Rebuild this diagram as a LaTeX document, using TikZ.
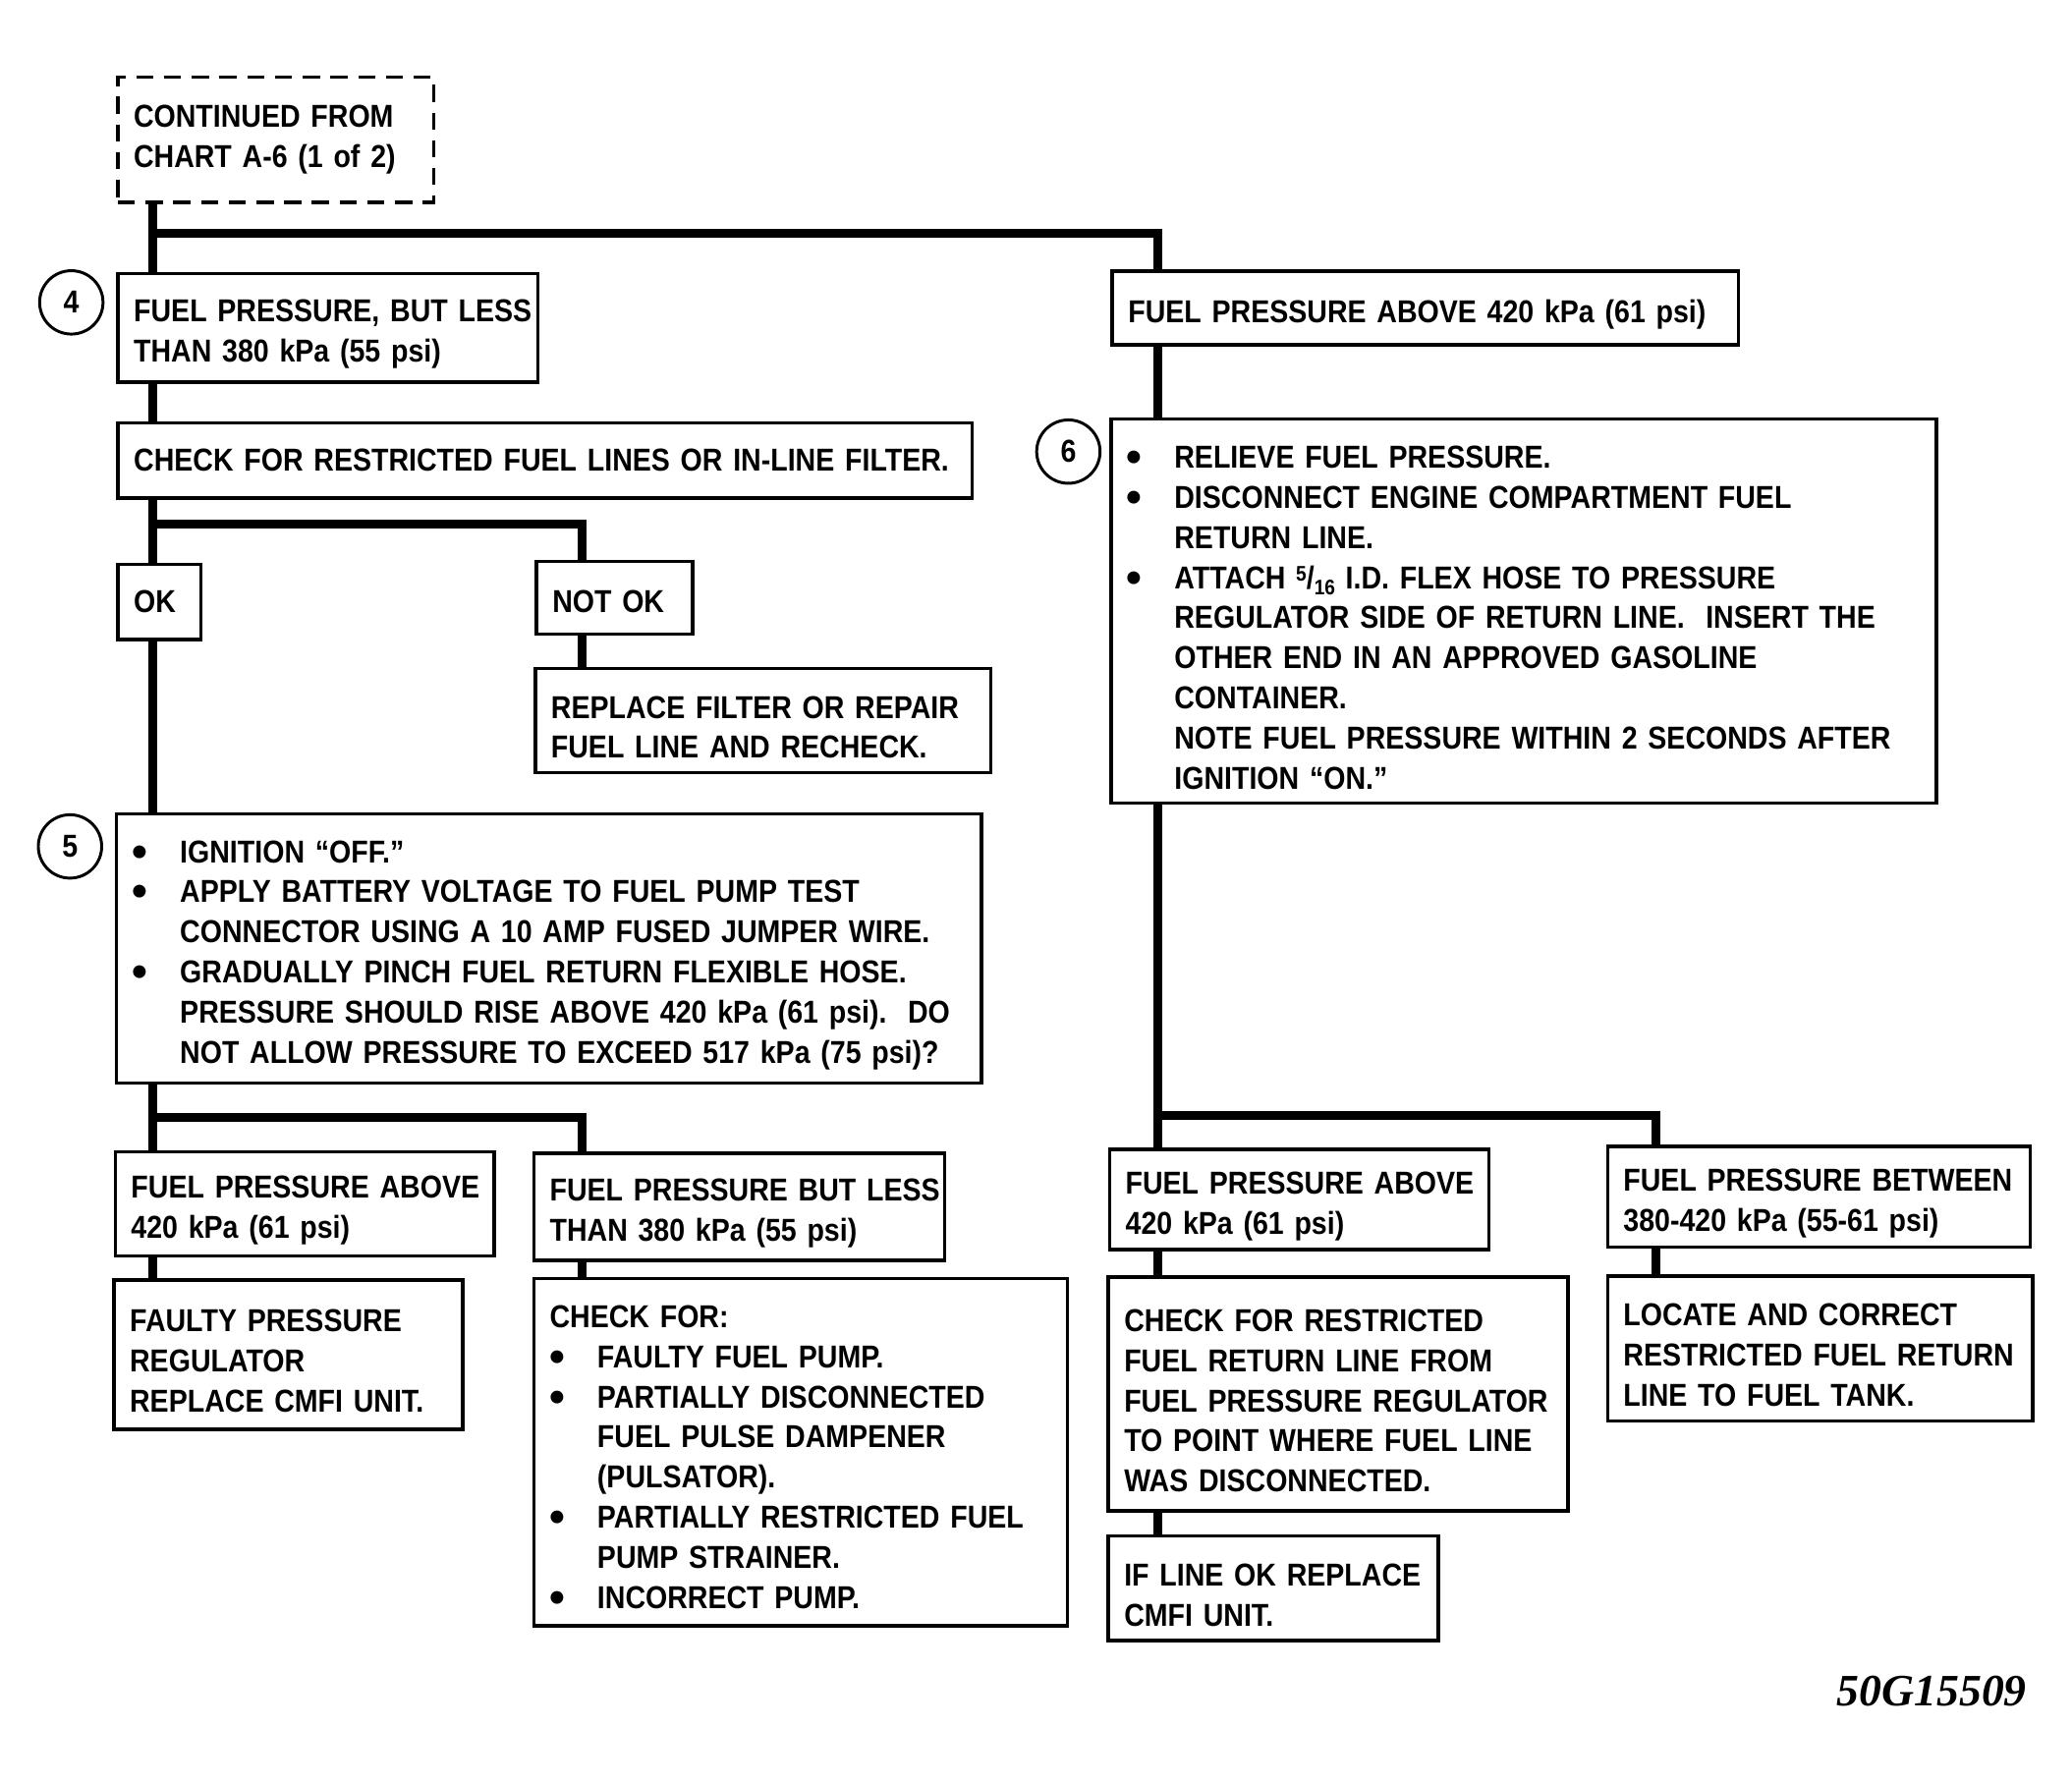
\documentclass[tikz,border=0pt]{standalone}
\usepackage{fontspec}
\usepackage{graphicx}
\setmainfont{Liberation Sans}
\newfontfamily\cf{Liberation Sans}[FakeStretch=0.885]
\newfontfamily\bulfont{Liberation Sans}
\newfontfamily\codefont{Liberation Serif}
\newcommand\bult{\raisebox{-1.5pt}{\scalebox{1.4}{\bulfont\bfseries •}}}
\newcommand\bl[1]{\mbox{\makebox[18pt][l]{\bult}#1}}
\newcommand\ct[1]{\mbox{\hspace*{18pt}#1}}
\newcommand\frc{{\fontsize{8}{8}\selectfont\raisebox{3pt}{5}}/{\fontsize{8}{8}\selectfont\raisebox{-2.5pt}{16}}}
\newcommand\fhval{13.4pt}
\begin{document}
\begin{tikzpicture}[x=0.5pt,y=-0.5pt,
  fh/.code={\renewcommand\fhval{#1}},
  box/.style={draw, line width=1.3pt, rectangle, inner xsep=6pt, inner ysep=0pt,
    anchor=north west, align=left, font=\cf\bfseries\fontsize{12}{15.2}\selectfont,
    execute at begin node={\rule{0pt}{\fhval}}},
  dbox/.style={box, fh=0pt, line width=1.2pt, dash pattern=on 6.5pt off 4pt},
  conn/.style={line width=3.3pt},
  num/.style={circle, draw, line width=1.1pt, minimum size=24pt, inner sep=0pt,
    font=\cf\bfseries\fontsize{12}{12}\selectfont}]
\useasboundingbox (0,0) rectangle (1569,1349);

% nodes
\node[dbox, minimum width=119.5pt, minimum height=47.5pt, text width=107.5pt] (cont) at (88,57)
  {\mbox{CONTINUED FROM}\\\mbox{CHART A-6 (1 of 2)}};
\node[num] (c4) at (54,229) {4};
\node[box, minimum width=159pt, minimum height=41pt, text width=147pt] (less4) at (88,206)
  {\mbox{FUEL PRESSURE, BUT LESS}\\\mbox{THAN 380 kPa (55 psi)}};
\node[box, fh=0pt, minimum width=323.5pt, minimum height=28.5pt, text width=311.5pt] (chk) at (88,319)
  {\mbox{CHECK FOR RESTRICTED FUEL LINES OR IN-LINE FILTER.}};
\node[box, fh=0pt, minimum width=31.5pt, minimum height=28.5pt, text width=19.5pt] (ok) at (88,426) {\mbox{OK}};
\node[box, fh=11.4pt, minimum width=59pt, minimum height=27.5pt, text width=47pt] (notok) at (405,424) {\mbox{NOT OK}};
\node[box, minimum width=172.5pt, minimum height=39.5pt, text width=160.5pt] (repl) at (404,505)
  {\mbox{REPLACE FILTER OR REPAIR}\\\mbox{FUEL LINE AND RECHECK.}};
\node[num] (c5) at (53,641) {5};
\node[box, minimum width=327.5pt, minimum height=102pt, text width=315.5pt] (s5) at (87,615)
  {\bl{IGNITION “OFF.”}\\
   \bl{APPLY BATTERY VOLTAGE TO FUEL PUMP TEST}\\
   \ct{CONNECTOR USING A 10 AMP FUSED JUMPER WIRE.}\\
   \bl{GRADUALLY PINCH FUEL RETURN FLEXIBLE HOSE.}\\
   \ct{PRESSURE SHOULD RISE ABOVE 420 kPa (61 psi).\ \ DO}\\
   \ct{NOT ALLOW PRESSURE TO EXCEED 517 kPa (75 psi)?}};
\node[box, minimum width=143.5pt, minimum height=39.5pt, text width=131.5pt] (abL) at (86,871)
  {\mbox{FUEL PRESSURE ABOVE}\\\mbox{420 kPa (61 psi)}};
\node[box, minimum width=155.5pt, minimum height=40.5pt, text width=143.5pt] (lessL) at (403,872)
  {\mbox{FUEL PRESSURE BUT LESS}\\\mbox{THAN 380 kPa (55 psi)}};
\node[box, minimum width=132pt, minimum height=56.5pt, text width=120pt] (faulty) at (85,968)
  {\mbox{FAULTY PRESSURE}\\\mbox{REGULATOR}\\\mbox{REPLACE CMFI UNIT.}};
\node[box, minimum width=202pt, minimum height=131.5pt, text width=190pt] (chkfor) at (403,967)
  {\mbox{CHECK FOR:}\\
   \bl{FAULTY FUEL PUMP.}\\
   \bl{PARTIALLY DISCONNECTED}\\
   \ct{FUEL PULSE DAMPENER}\\
   \ct{(PULSATOR).}\\
   \bl{PARTIALLY RESTRICTED FUEL}\\
   \ct{PUMP STRAINER.}\\
   \bl{INCORRECT PUMP.}};
\node[box, minimum width=237pt, minimum height=28pt, text width=225pt] (abR) at (841,204)
  {\mbox{FUEL PRESSURE ABOVE 420 kPa (61 psi)}};
\node[num] (c6) at (809,342) {6};
\node[box, minimum width=312.5pt, minimum height=145.5pt, text width=300.5pt] (s6) at (840,316)
  {\bl{RELIEVE FUEL PRESSURE.}\\
   \bl{DISCONNECT ENGINE COMPARTMENT FUEL}\\
   \ct{RETURN LINE.}\\
   \bl{ATTACH \frc\ I.D. FLEX HOSE TO PRESSURE}\\
   \ct{REGULATOR SIDE OF RETURN LINE.\ \ INSERT THE}\\
   \ct{OTHER END IN AN APPROVED GASOLINE}\\
   \ct{CONTAINER.}\\
   \ct{NOTE FUEL PRESSURE WITHIN 2 SECONDS AFTER}\\
   \ct{IGNITION “ON.”}};
\node[box, minimum width=143.5pt, minimum height=38pt, text width=131.5pt] (abR2) at (839,869)
  {\mbox{FUEL PRESSURE ABOVE}\\\mbox{420 kPa (61 psi)}};
\node[box, minimum width=160pt, minimum height=38pt, text width=148pt] (betw) at (1216,867)
  {\mbox{FUEL PRESSURE BETWEEN}\\\mbox{380-420 kPa (55-61 psi)}};
\node[box, minimum width=174pt, minimum height=88.5pt, text width=162pt] (chkret) at (838,966)
  {\mbox{CHECK FOR RESTRICTED}\\\mbox{FUEL RETURN LINE FROM}\\\mbox{FUEL PRESSURE REGULATOR}\\
   \mbox{TO POINT WHERE FUEL LINE}\\\mbox{WAS DISCONNECTED.}};
\node[box, minimum width=125pt, minimum height=39.5pt, text width=113pt] (ifline) at (838,1162)
  {\mbox{IF LINE OK REPLACE}\\\mbox{CMFI UNIT.}};
\node[box, minimum width=161pt, minimum height=55pt, text width=149pt] (locate) at (1216,965)
  {\mbox{LOCATE AND CORRECT}\\\mbox{RESTRICTED FUEL RETURN}\\\mbox{LINE TO FUEL TANK.}};
\node[anchor=base east, inner sep=0pt, font=\codefont\bfseries\itshape\fontsize{17}{17}\selectfont] (code) at (1535,1292) {50G15509};

% connector guides
\coordinate (lx) at (116,0);
\coordinate (mx) at (441,0);
\coordinate (rx) at (877,0);
\coordinate (ox) at (1254,0);
\coordinate (j1) at (116,177);
\coordinate (j2) at (116,397);
\coordinate (j3) at (116,846);
\coordinate (j4) at (877,845);

\draw[conn] (cont.south -| lx) -- (less4.north -| lx);
\draw[conn] (j1) -- (j1 -| rx) -- (abR.north -| rx);
\draw[conn] (less4.south -| lx) -- (chk.north -| lx);
\draw[conn] (chk.south -| lx) -- (ok.north -| lx);
\draw[conn] (j2) -- (j2 -| mx) -- (notok.north -| mx);
\draw[conn] (notok.south -| mx) -- (repl.north -| mx);
\draw[conn] (ok.south -| lx) -- (s5.north -| lx);
\draw[conn] (s5.south -| lx) -- (abL.north -| lx);
\draw[conn] (j3) -- (j3 -| mx) -- (lessL.north -| mx);
\draw[conn] (abL.south -| lx) -- (faulty.north -| lx);
\draw[conn] (lessL.south -| mx) -- (chkfor.north -| mx);
\draw[conn] (abR.south -| rx) -- (s6.north -| rx);
\draw[conn] (s6.south -| rx) -- (abR2.north -| rx);
\draw[conn] (j4) -- (j4 -| ox) -- (betw.north -| ox);
\draw[conn] (abR2.south -| rx) -- (chkret.north -| rx);
\draw[conn] (chkret.south -| rx) -- (ifline.north -| rx);
\draw[conn] (betw.south -| ox) -- (locate.north -| ox);
\end{tikzpicture}
\end{document}
